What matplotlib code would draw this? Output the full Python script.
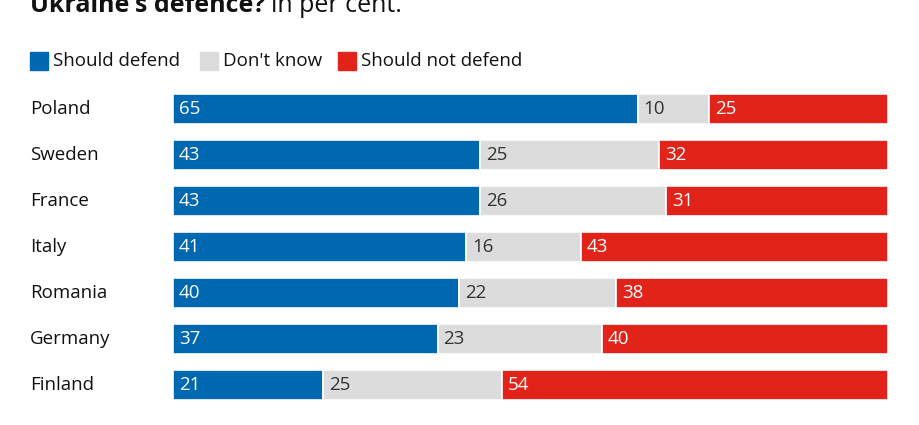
import numpy as np
import matplotlib
matplotlib.use('Agg')
from matplotlib import pyplot as plt
from matplotlib import transforms

plt.rcParams['font.family'] = ['Open Sans', 'DejaVu Sans']

countries = ['Poland', 'Sweden', 'France', 'Italy', 'Romania', 'Germany', 'Finland']
should_defend = [65, 43, 43, 41, 40, 37, 21]
dont_know = [10, 25, 26, 16, 22, 23, 25]
should_not = [25, 32, 31, 43, 38, 40, 54]

series_names = ['Should defend', "Don't know", 'Should not defend']
colors = ['#0067b1', '#dcdcdc', '#e2231a']
label_colors = ['white', '#333333', 'white']

W, H = 920, 425
fig = plt.figure(figsize=(W / 100, H / 100), dpi=100)

# axes placed in pixel terms: bars from x=173 to 888, rows 46 px apart
ax = fig.add_axes([173 / W, 1 - 408 / H, (888 - 173) / W, 322 / H])
ax.set_xlim(0, 100)
ax.set_ylim(len(countries) - 0.5, -0.5)
ax.axis('off')

y = np.arange(len(countries))
left = np.zeros(len(countries))
# small offset for labels inside segments (in pixels)
pad = transforms.offset_copy(ax.transData, fig=fig, x=6, y=0, units='dots')
for vals, col, lcol in zip([should_defend, dont_know, should_not], colors, label_colors):
    vals = np.array(vals)
    ax.barh(y, vals, left=left, height=0.64, color=col, edgecolor='white', linewidth=1.2)
    for yi, l, v in zip(y, left, vals):
        ax.text(l, yi, str(v), transform=pad, color=lcol, fontsize=13.5,
                va='center', ha='left')
    left = left + vals

# country labels
row_tr = transforms.blended_transform_factory(fig.transFigure, ax.transData)
for yi, c in zip(y, countries):
    ax.text(30 / W, yi, c, transform=row_tr, fontsize=13.5,
            va='center', ha='left', color='#111111')

# legend: squares and texts
leg_y = 1 - 61 / H
sq = 18
for x0, name, col in zip([30, 200, 338], series_names, colors):
    fig.patches.append(plt.Rectangle((x0 / W, leg_y - sq / 2 / H), sq / W, sq / H,
                                     transform=fig.transFigure, color=col, figure=fig))
    fig.text((x0 + 23) / W, leg_y, name, fontsize=13.5, va='center', ha='left', color='#111111')

# title, clipped at the top of the picture
t = fig.text(30 / W, 1 - 12 / H, "Ukraine's defence?", fontsize=18, fontweight='bold',
             va='baseline', ha='left', color='#111111')
fig.canvas.draw()
bb = t.get_window_extent()
fig.text(bb.x1 / W + 6 / W, 1 - 12 / H, 'in per cent.', fontsize=18,
         va='baseline', ha='left', color='#111111')

fig.savefig('out.png', dpi=100)
